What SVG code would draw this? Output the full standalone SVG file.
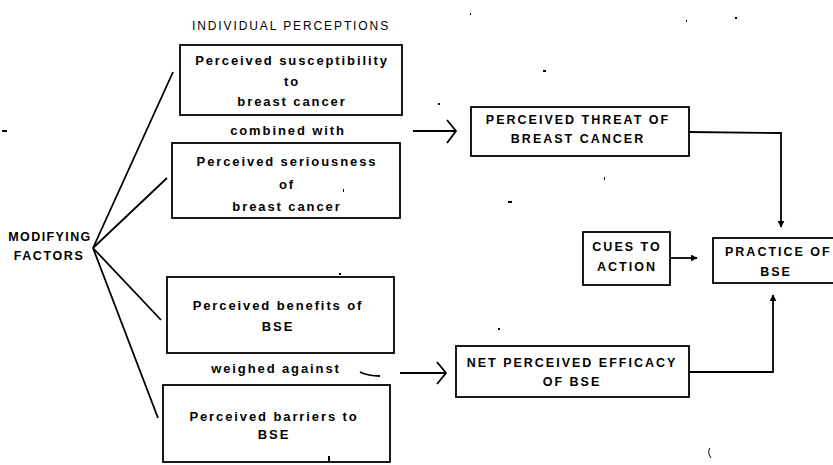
<svg xmlns="http://www.w3.org/2000/svg" width="833" height="465" viewBox="0 0 833 465">
<style>
.box{fill:#fff;stroke:#000;stroke-width:1.8}
.ln{fill:none;stroke:#000;stroke-width:1.8}
.t{font-family:"Liberation Sans",Arial,sans-serif;font-weight:bold;font-size:13px;fill:#000;text-anchor:middle;letter-spacing:1.9px}
.u{font-family:"Liberation Sans",Arial,sans-serif;font-weight:bold;font-size:12.5px;fill:#000;text-anchor:middle;letter-spacing:2px}
.h{font-family:"Liberation Sans",Arial,sans-serif;font-size:12px;fill:#000;letter-spacing:1.9px}
</style>
<defs>
<marker id="ah" viewBox="0 0 10 10" refX="9" refY="5" markerWidth="7" markerHeight="7" markerUnits="userSpaceOnUse" orient="auto"><path d="M0,0 L10,5 L0,10 z" fill="#000"/></marker>
</defs>
<rect width="833" height="465" fill="#fff"/>
<text class="h" x="192" y="30">INDIVIDUAL PERCEPTIONS</text>
<g id="connectors">
<path class="ln" d="M173,72 L93,248 L167,178"/>
<path class="ln" d="M161,320 L93,248 L158,418"/>
<path class="ln" d="M413,131 L455,131 M447,120 L456,131 L447,143"/>
<path class="ln" d="M400,373 L445,373 M437,362 L446,373 L437,384"/>
<path class="ln" d="M360,372 Q368,376 380,376" stroke-width="1.5"/>
<path class="ln" d="M689,132 L781,133 L781,227" marker-end="url(#ah)"/>
<path class="ln" d="M670,258 L697,258" marker-end="url(#ah)"/>
<path class="ln" d="M689,372 L773,372 L773,295" marker-end="url(#ah)"/>
</g>
<g id="modifying"><text class="u" x="50" y="241" style="letter-spacing:1.4px">MODIFYING</text><text class="u" x="49" y="260" style="letter-spacing:1.6px">FACTORS</text></g>
<g id="susceptibility"><rect class="box" x="180" y="45" width="222" height="70"/>
<text class="t" x="292" y="65">Perceived susceptibility</text><text class="t" x="292" y="86">to</text><text class="t" x="292" y="106">breast cancer</text></g>
<g id="combined"><text class="t" x="288" y="135">combined with</text></g>
<g id="seriousness"><rect class="box" x="172" y="143" width="228" height="75"/>
<text class="t" x="287" y="166">Perceived seriousness</text><text class="t" x="287" y="189">of</text><text class="t" x="287" y="211">breast cancer</text></g>
<g id="benefits"><rect class="box" x="167" y="277" width="227" height="76"/>
<text class="t" x="278" y="310">Perceived benefits of</text><text class="t" x="278" y="331">BSE</text></g>
<g id="weighed"><text class="t" x="276" y="373">weighed against</text></g>
<g id="barriers"><rect class="box" x="163" y="385" width="227" height="77"/>
<text class="t" x="274" y="421">Perceived barriers to</text><text class="t" x="274" y="439">BSE</text></g>
<g id="threat"><rect class="box" x="471" y="107" width="218" height="49"/>
<text class="u" x="578" y="124">PERCEIVED THREAT OF</text><text class="u" x="578" y="143">BREAST CANCER</text></g>
<g id="cues"><rect class="box" x="583" y="232" width="87" height="53"/>
<text class="u" x="627" y="251">CUES TO</text><text class="u" x="627" y="271">ACTION</text></g>
<g id="practice"><rect class="box" x="713" y="238" width="130" height="45"/>
<text class="u" x="725" y="256" style="text-anchor:start">PRACTICE OF</text><text class="u" x="776" y="276">BSE</text></g>
<g id="efficacy"><rect class="box" x="456" y="346" width="233" height="51"/>
<text class="u" x="572" y="367">NET PERCEIVED EFFICACY</text><text class="u" x="572" y="386">OF BSE</text></g>
<g id="specks" fill="#000">
<rect x="2" y="130" width="5" height="2"/>
<rect x="328" y="456" width="2" height="6"/>
<rect x="343" y="189" width="1" height="3"/>
<rect x="438" y="103" width="2" height="2"/>
<rect x="543" y="70" width="3" height="2"/>
<rect x="508" y="201" width="4" height="2"/>
<rect x="604" y="177" width="1" height="3"/>
<rect x="339" y="273" width="2" height="2"/>
<rect x="498" y="328" width="2" height="2"/>
<rect x="470" y="13" width="1" height="2"/>
<rect x="735" y="17" width="2" height="2"/>
<rect x="686" y="20" width="1" height="2"/>
</g>
<path d="M710,448 Q707,452 711,458" fill="none" stroke="#000" stroke-width="1"/>
</svg>
